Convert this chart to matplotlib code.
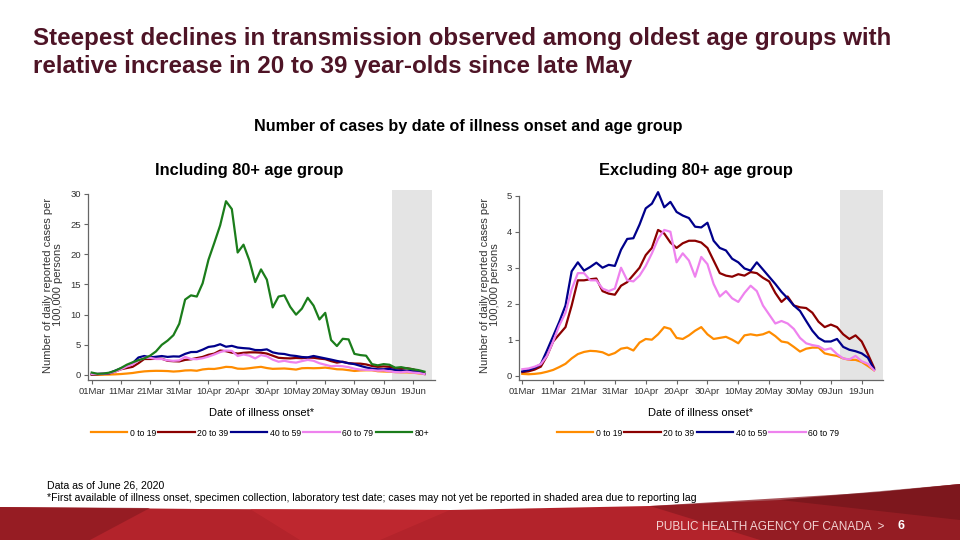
import matplotlib
matplotlib.use('Agg')
import matplotlib.pyplot as plt
import matplotlib.dates as mdates
import numpy as np
import pandas as pd
from matplotlib.patches import Polygon

# values, every 2nd day of illness onset
dates = pd.date_range('2020-03-01', '2020-06-23', freq='2D')

age_0_19 = [0.05, 0.04, 0.05, 0.07, 0.11, 0.16, 0.24, 0.33, 0.48, 0.60,
            0.66, 0.69, 0.68, 0.65, 0.57, 0.63, 0.75, 0.78, 0.70, 0.92,
            1.02, 1.00, 1.15, 1.35, 1.30, 1.05, 1.02, 1.12, 1.25, 1.35,
            1.15, 1.02, 1.05, 1.08, 1.00, 0.90, 1.12, 1.15, 1.12, 1.15,
            1.22, 1.10, 0.95, 0.92, 0.80, 0.67, 0.75, 0.78, 0.78, 0.62,
            0.58, 0.55, 0.48, 0.44, 0.44, 0.38, 0.27, 0.15]
age_20_39 = [0.10, 0.12, 0.17, 0.25, 0.55, 0.95, 1.15, 1.35, 1.95, 2.65,
             2.65, 2.68, 2.70, 2.35, 2.28, 2.25, 2.50, 2.60, 2.80, 3.00,
             3.35, 3.55, 4.05, 3.95, 3.70, 3.55, 3.68, 3.75, 3.75, 3.70,
             3.55, 3.20, 2.85, 2.78, 2.75, 2.82, 2.78, 2.88, 2.85, 2.72,
             2.62, 2.30, 2.05, 2.20, 1.95, 1.90, 1.88, 1.75, 1.50, 1.35,
             1.42, 1.35, 1.15, 1.02, 1.12, 0.95, 0.60, 0.22]
age_40_59 = [0.12, 0.16, 0.22, 0.32, 0.70, 1.10, 1.50, 1.95, 2.90, 3.15,
             2.92, 3.02, 3.14, 3.00, 3.08, 3.05, 3.50, 3.80, 3.82, 4.20,
             4.65, 4.78, 5.10, 4.68, 4.83, 4.55, 4.45, 4.38, 4.14, 4.12,
             4.25, 3.75, 3.55, 3.48, 3.25, 3.15, 2.98, 2.92, 3.15, 2.95,
             2.75, 2.55, 2.33, 2.15, 1.95, 1.80, 1.52, 1.25, 1.05, 0.95,
             0.95, 1.02, 0.80, 0.72, 0.68, 0.62, 0.50, 0.18]
age_60_79 = [0.18, 0.20, 0.25, 0.32, 0.55, 0.95, 1.40, 1.75, 2.40, 2.85,
             2.85, 2.65, 2.65, 2.42, 2.35, 2.42, 3.00, 2.65, 2.62, 2.78,
             3.05, 3.40, 3.80, 4.05, 4.00, 3.15, 3.40, 3.20, 2.75, 3.30,
             3.10, 2.55, 2.20, 2.35, 2.15, 2.05, 2.30, 2.50, 2.35, 1.95,
             1.70, 1.45, 1.52, 1.45, 1.30, 1.05, 0.90, 0.85, 0.82, 0.72,
             0.76, 0.60, 0.48, 0.45, 0.55, 0.40, 0.33, 0.15]
age_80 = [0.40, 0.20, 0.25, 0.38, 0.70, 1.15, 1.70, 2.10, 2.45, 2.75,
          3.20, 3.90, 5.00, 5.70, 6.60, 8.50, 12.5, 13.2, 13.0, 15.2,
          19.1, 21.9, 24.8, 28.8, 27.5, 20.3, 21.6, 19.0, 15.4, 17.5,
          15.8, 11.2, 13.0, 13.2, 11.3, 10.0, 11.0, 12.8, 11.5, 9.2,
          10.3, 5.8, 4.8, 6.0, 5.9, 3.5, 3.3, 3.2, 1.8, 1.6,
          1.8, 1.7, 1.2, 1.3, 1.1, 0.95, 0.8, 0.55]

labels = ['0 to 19', '20 to 39', '40 to 59', '60 to 79', '80+']
colors = ['#ff8c00', '#8b0000', '#00008b', '#ee82ee', '#1b7d1b']
lag_start = '2020-06-12'

SANS = ['Liberation Sans', 'DejaVu Sans']


def draw_panel(fig, rect, series, yticks, ylim, x0, x1, lag_end):
    ax = fig.add_axes(rect)
    lines = []
    for values, lab, col in series:
        l, = ax.plot(dates, values, color=col, lw=1.6, label=lab)
        lines.append(l)
    ax.axvspan(pd.Timestamp(lag_start), pd.Timestamp(lag_end), color='#e4e4e4', lw=0, zorder=0)
    ax.set_xlim(pd.Timestamp('2020-03-01') + pd.Timedelta(days=x0),
                pd.Timestamp('2020-03-01') + pd.Timedelta(days=x1))
    ax.set_ylim(*ylim)
    ax.set_yticks(yticks)
    ticks = pd.date_range('2020-03-01', '2020-06-19', freq='10D')
    ax.set_xticks(ticks)
    ax.xaxis.set_major_formatter(mdates.DateFormatter('%d%b'))
    for s in ['top', 'right']:
        ax.spines[s].set_visible(False)
    ax.spines['left'].set_bounds(ylim[0], yticks[-1])
    for s in ['left', 'bottom']:
        ax.spines[s].set_color('#666666')
        ax.spines[s].set_linewidth(0.9)
    ax.tick_params(length=3, width=0.8, color='#666666', labelsize=6.8, labelcolor='#333333', pad=2)
    for t in ax.get_xticklabels() + ax.get_yticklabels():
        t.set_family(SANS)
    ax.set_ylabel('Number of daily reported cases per\n100,000 persons', fontsize=8,
                  color='#333333', family=SANS, labelpad=5, linespacing=1.0)
    ax.set_xlabel('Date of illness onset*', fontsize=8, color='black', family=SANS, labelpad=9)
    return ax, lines


def main():
    fig = plt.figure(figsize=(9.6, 5.4), dpi=100)

    # background layer in pixel coordinates for banner and slide texts
    bg = fig.add_axes([0, 0, 1, 1], zorder=-1)
    bg.set_xlim(0, 960)
    bg.set_ylim(540, 0)
    bg.axis('off')

    top = [(0, 507), (200, 509), (450, 510), (650, 506), (780, 500), (880, 492), (960, 484)]
    bg.add_patch(Polygon(top + [(960, 540), (0, 540)], closed=True, color='#b3232b', lw=0))
    # darker facets of the banner
    bg.add_patch(Polygon([(0, 507), (150, 508), (90, 540), (0, 540)], color='#8f1b22', lw=0, alpha=0.8))
    bg.add_patch(Polygon([(250, 509), (450, 510), (380, 540), (300, 540)], color='#c42a31', lw=0, alpha=0.7))
    bg.add_patch(Polygon([(650, 506), (880, 492), (960, 484), (960, 540), (760, 540)], color='#8a1a21', lw=0, alpha=0.75))
    bg.add_patch(Polygon([(780, 500), (960, 484), (960, 520)], color='#6e1419', lw=0, alpha=0.6))

    bg.text(33, 38, 'Steepest declines in transmission observed among oldest age groups with',
            fontsize=17.4, fontweight='bold', color='#4e1426', family=SANS, va='center')
    bg.text(33, 67, 'relative increase in 20 to 39 year-olds since late May',
            fontsize=17.4, fontweight='bold', color='#4e1426', family=SANS, va='center')
    bg.text(468, 127, 'Number of cases by date of illness onset and age group',
            fontsize=11.6, fontweight='bold', color='black', family=SANS, ha='center', va='center')
    bg.text(249, 171, 'Including 80+ age group', fontsize=11.8, fontweight='bold',
            family=SANS, ha='center', va='center')
    bg.text(696, 171, 'Excluding 80+ age group', fontsize=11.8, fontweight='bold',
            family=SANS, ha='center', va='center')
    bg.text(47, 485, 'Data as of June 26, 2020', fontsize=7.6, family=SANS, va='center')
    bg.text(47, 498, '*First available of illness onset, specimen collection, laboratory test date; '
            'cases may not yet be reported in shaded area due to reporting lag',
            fontsize=7.6, family=SANS, va='center')
    bg.text(884, 527, 'PUBLIC HEALTH AGENCY OF CANADA  >', fontsize=8.5, color='#f3d3d3',
            family=SANS, ha='right', va='center')
    bg.text(897, 526, '6', fontsize=9, fontweight='bold', color='white', family=SANS, va='center')

    all_series = list(zip([age_0_19, age_20_39, age_40_59, age_60_79, age_80], labels, colors))

    # left panel including 80+
    axl, ll = draw_panel(fig, [88 / 960, 1 - 380 / 540, 347 / 960, 190 / 540],
                         all_series, [0, 5, 10, 15, 20, 25, 30], (-0.83, 30.66),
                         -1.27, 117.6, '2020-06-25 14:00')
    # right panel excluding 80+
    axr, lr = draw_panel(fig, [519 / 960, 1 - 380 / 540, 364 / 960, 190 / 540],
                         all_series[:4], [0, 1, 2, 3, 4, 5], (-0.12, 5.16),
                         -1.07, 116.9, '2020-06-26 22:00')

    fig.legend(ll, labels, loc='center', bbox_to_anchor=(260 / 960, 1 - 433 / 540), ncol=5,
               frameon=False, prop={'family': SANS, 'size': 6.2}, handlelength=4.2,
               handletextpad=0.3, columnspacing=0.3)
    fig.legend(lr, labels[:4], loc='center', bbox_to_anchor=(698 / 960, 1 - 433 / 540), ncol=4,
               frameon=False, prop={'family': SANS, 'size': 6.2}, handlelength=4.2,
               handletextpad=0.3, columnspacing=0.3)

    fig.savefig('out.png', dpi=100, facecolor='white')


main()
